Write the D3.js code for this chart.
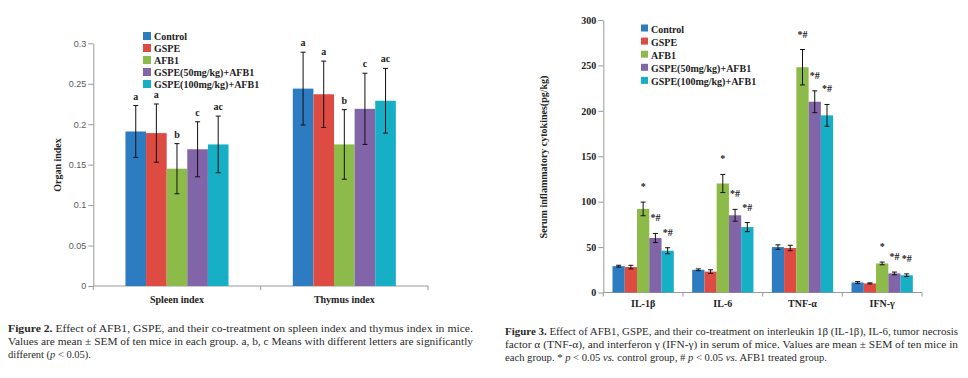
<!DOCTYPE html>
<html>
<head>
<meta charset="utf-8">
<script src="https://cdn.jsdelivr.net/npm/d3@7"></script>
<style>
  body { margin: 0; background: #fff; }
  text { font-family: "Liberation Serif", "Times New Roman", serif; }
</style>
</head>
<body>
<div id="plot"></div>
<script>
var groups = ['Control', 'GSPE', 'AFB1', 'GSPE(50mg/kg)+AFB1', 'GSPE(100mg/kg)+AFB1'];
var colours = ['#2D7CC1', '#DE4B43', '#8DBB4A', '#8264A8', '#17AFC6'];

// figure 2 - organ index
var organs = ['Spleen index', 'Thymus index'];
var spleen = [0.191, 0.189, 0.145, 0.169, 0.175];
var spleenErr = [0.032, 0.036, 0.031, 0.034, 0.035];
var thymus = [0.244, 0.237, 0.175, 0.219, 0.229];
var thymusErr = [0.045, 0.041, 0.043, 0.044, 0.040];
var organLetters = ['a', 'a', 'b', 'c', 'ac'];
var organTicks = [0, 0.05, 0.1, 0.15, 0.2, 0.25, 0.3];
var organTickLabels = ['0', '0.05', '0.1', '0.15', '0.2', '0.25', '0.3'];

// figure 3 - cytokines
var cytokines = ['IL-1\u03b2', 'IL-6', 'TNF-\u03b1', 'IFN-\u03b3'];
var il1b = [29, 28, 92, 60, 46];
var il1bErr = [1, 2, 7.5, 5, 3.3];
var il6 = [25, 23, 120, 85, 72];
var il6Err = [1, 2, 10, 6.5, 5];
var tnfa = [50, 49, 248, 210, 195];
var tnfaErr = [2.5, 3, 19.5, 12, 12];
var ifng = [11, 10, 32, 21, 19];
var ifngErr = [1, 0.6, 1.5, 1.5, 1.5];
var cytoMarks = [
  ['', '', '*', '*#', '*#'],
  ['', '', '*', '*#', '*#'],
  ['', '', '*#', '*#', '*#'],
  ['', '', '*', '*#', '*#']
];
var cytoTicks = [0, 50, 100, 150, 200, 250, 300];

var organData = [
  { name: organs[0], values: spleen, err: spleenErr },
  { name: organs[1], values: thymus, err: thymusErr }
];
var cytoData = [
  { name: cytokines[0], values: il1b, err: il1bErr },
  { name: cytokines[1], values: il6, err: il6Err },
  { name: cytokines[2], values: tnfa, err: tnfaErr },
  { name: cytokines[3], values: ifng, err: ifngErr }
];

var svg = d3.select('#plot').append('svg').attr('width', 968).attr('height', 378);

function drawChart(opt) {
  var g = svg.append('g');
  var x0 = d3.scaleBand().domain(opt.data.map(function(d) { return d.name; }))
    .range([opt.left, opt.right]);
  var x1 = d3.scaleBand().domain(d3.range(groups.length))
    .range([0, x0.bandwidth()]).paddingOuter(opt.outer);
  var y = d3.scaleLinear().domain(opt.domain).range([opt.bottom, opt.top]);

  // y axis
  var yAxis = g.append('g').attr('transform', 'translate(' + opt.left + ',0)')
    .call(d3.axisLeft(y).tickValues(opt.ticks).tickSize(5).tickSizeOuter(0)
      .tickFormat(function(d, i) { return opt.tickLabels ? opt.tickLabels[i] : d; }));
  yAxis.select('.domain').attr('stroke', '#9a9a9a');
  yAxis.selectAll('.tick line').attr('stroke', '#9a9a9a');
  yAxis.selectAll('.tick text')
    .attr('x', -7)
    .style('font-family', opt.tickFont)
    .style('font-size', opt.tickSize)
    .style('font-weight', opt.tickWeight)
    .attr('fill', opt.tickColour);

  // x axis
  g.append('line')
    .attr('x1', opt.left).attr('x2', opt.right)
    .attr('y1', y(0)).attr('y2', y(0))
    .attr('stroke', '#9a9a9a');
  g.selectAll('.xtick')
    .data(opt.data.map(function(d) { return x0(d.name); }).concat([opt.right]))
    .enter().append('line')
    .attr('x1', function(d) { return d; }).attr('x2', function(d) { return d; })
    .attr('y1', y(0)).attr('y2', y(0) + 4)
    .attr('stroke', '#9a9a9a');
  g.selectAll('.xlabel')
    .data(opt.data)
    .enter().append('text')
    .attr('x', function(d) { return x0(d.name) + x0.bandwidth() / 2; })
    .attr('y', opt.labelY)
    .attr('text-anchor', 'middle')
    .style('font-size', '10px').style('font-weight', 'bold')
    .attr('fill', '#222')
    .text(function(d) { return d.name; });

  // y title
  g.append('text')
    .attr('transform', 'translate(' + opt.titleX + ',' + opt.titleY + ') rotate(-90)')
    .attr('text-anchor', 'middle')
    .style('font-size', '10px').style('font-weight', 'bold')
    .attr('fill', '#222')
    .text(opt.title);

  // bars
  opt.data.forEach(function(cat, c) {
    var cg = g.append('g').attr('transform', 'translate(' + x0(cat.name) + ',0)');
    cg.selectAll('rect')
      .data(cat.values)
      .enter().append('rect')
      .attr('x', function(d, j) { return x1(j); })
      .attr('y', function(d) { return y(d); })
      .attr('width', x1.bandwidth())
      .attr('height', function(d) { return y(0) - y(d); })
      .attr('fill', function(d, j) { return colours[j]; });

    var eb = cg.selectAll('.err')
      .data(cat.values)
      .enter().append('g')
      .attr('stroke', '#111').attr('stroke-width', 1);
    eb.append('line')
      .attr('x1', function(d, j) { return x1(j) + x1.bandwidth() / 2; })
      .attr('x2', function(d, j) { return x1(j) + x1.bandwidth() / 2; })
      .attr('y1', function(d, j) { return y(d + cat.err[j]); })
      .attr('y2', function(d, j) { return y(d - cat.err[j]); });
    [1, -1].forEach(function(s) {
      eb.append('line')
        .attr('x1', function(d, j) { return x1(j) + x1.bandwidth() / 2 - opt.cap; })
        .attr('x2', function(d, j) { return x1(j) + x1.bandwidth() / 2 + opt.cap; })
        .attr('y1', function(d, j) { return y(d + s * cat.err[j]); })
        .attr('y2', function(d, j) { return y(d + s * cat.err[j]); });
    });

    cg.selectAll('.mark')
      .data(cat.values)
      .enter().append('text')
      .attr('x', function(d, j) { return x1(j) + x1.bandwidth() / 2; })
      .attr('y', function(d, j) { return y(d + cat.err[j]) - opt.markGap; })
      .attr('text-anchor', 'middle')
      .style('font-size', '10px').style('font-weight', 'bold')
      .attr('fill', '#222')
      .text(function(d, j) { return opt.marks(c, j); });
  });

  // legend
  var lg = g.selectAll('.legend')
    .data(groups)
    .enter().append('g')
    .attr('transform', function(d, i) { return 'translate(' + opt.legendX + ',' + (opt.legendY + i * opt.legendStep) + ')'; });
  lg.append('rect')
    .attr('x', 0).attr('y', -4)
    .attr('width', opt.legendBox).attr('height', opt.legendBox)
    .attr('fill', function(d, i) { return colours[i]; });
  lg.append('text')
    .attr('x', opt.legendBox + 3).attr('y', 4)
    .style('font-size', '10px').style('font-weight', 'bold')
    .attr('fill', '#222')
    .text(function(d) { return d; });
}

drawChart({
  data: organData, left: 93.3, right: 428, top: 43.3, bottom: 286,
  domain: [0, 0.3], ticks: organTicks, tickLabels: organTickLabels,
  tickFont: '"Liberation Sans", Arial, sans-serif', tickSize: '9px', tickWeight: 'normal', tickColour: '#595959',
  outer: 1.56, cap: 2.5, markGap: 6, labelY: 303,
  marks: function(c, j) { return organLetters[j]; },
  title: 'Organ index', titleX: 61, titleY: 165,
  legendX: 143, legendY: 36, legendStep: 12, legendBox: 8
});

drawChart({
  data: cytoData, left: 603.3, right: 922, top: 20, bottom: 292.5,
  domain: [0, 300], ticks: cytoTicks, tickLabels: null,
  tickFont: '"Liberation Serif", serif', tickSize: '10px', tickWeight: 'bold', tickColour: '#222',
  outer: 0.75, cap: 2.5, markGap: 12, labelY: 307,
  marks: function(c, j) { return cytoMarks[c][j]; },
  title: 'Serum inflammatory cytokines(pg/kg)', titleX: 547, titleY: 157,
  legendX: 641, legendY: 28.5, legendStep: 13.1, legendBox: 7
});

// captions
function caption(x, y, parts, len) {
  var t = svg.append('text')
    .attr('x', x).attr('y', y)
    .style('font-size', '10.5px')
    .attr('fill', '#2a2a2a');
  if (len) t.attr('textLength', len).attr('lengthAdjust', 'spacingAndGlyphs');
  parts.forEach(function(p) {
    t.append('tspan')
      .style('font-weight', p.b ? 'bold' : 'normal')
      .style('font-style', p.i ? 'italic' : 'normal')
      .text(p.t);
  });
}

caption(8, 332, [{ t: 'Figure 2.', b: true }, { t: ' Effect of AFB1, GSPE, and their co-treatment on spleen index and thymus index in mice.' }], 465);
caption(8, 345, [{ t: 'Values are mean \u00b1 SEM of ten mice in each group. a, b, c Means with different letters are significantly' }], 465);
caption(8, 358, [{ t: 'different (' }, { t: 'p', i: true }, { t: ' < 0.05).' }]);

caption(505, 335, [{ t: 'Figure 3.', b: true }, { t: ' Effect of AFB1, GSPE, and their co-treatment on interleukin 1\u03b2 (IL-1\u03b2), IL-6, tumor necrosis' }], 453);
caption(505, 348, [{ t: 'factor \u03b1 (TNF-\u03b1), and interferon \u03b3 (IFN-\u03b3) in serum of mice. Values are mean \u00b1 SEM of ten mice in' }], 453);
caption(505, 361, [{ t: 'each group. * ' }, { t: 'p', i: true }, { t: ' < 0.05 ' }, { t: 'vs.', i: true }, { t: ' control group, # ' }, { t: 'p', i: true }, { t: ' < 0.05 ' }, { t: 'vs.', i: true }, { t: ' AFB1 treated group.' }], 322);
</script>
</body>
</html>
